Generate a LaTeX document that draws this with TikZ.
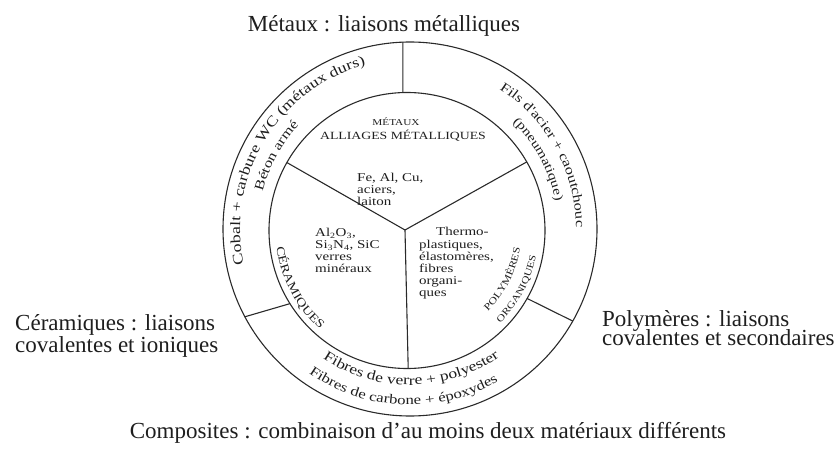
\documentclass[tikz,border=0pt]{standalone}
\usepackage{fontspec}
\setmainfont{Liberation Serif}
\newfontfamily\scanfont{Liberation Serif}[FakeStretch=1.25]
\usetikzlibrary{calc,decorations.text}
\definecolor{ink}{HTML}{1E1E1E}
\definecolor{linec}{HTML}{2A2A2A}
% #1 centre, #2 baseline radius, #3 mid angle, #4 half span (positive: clockwise), #5 size, #6 text
\newcommand{\ringtext}[6]{%
  \path[decorate,decoration={text along path,text align=center,
    text={|\scanfont\fontsize{#5}{#5}\selectfont\color{ink}|#6}}]
    ($(#1)+({#3+(#4)}:#2)$) arc[start angle={#3+(#4)},end angle={#3-(#4)},radius=#2];}
\begin{document}
\begin{tikzpicture}[x=1pt,y=1pt,
  ring/.style={draw=linec,line width=1.1pt},
  biglabel/.style={font=\fontsize{23}{22}\selectfont,text=ink,inner sep=0pt},
  small/.style={font=\scanfont\fontsize{12}{12.2}\selectfont,text=ink,inner sep=0pt,align=left},
]
\useasboundingbox (0,0) rectangle (839,448);
\coordinate (CO) at (410,219);
\coordinate (CI) at (407,217.5);
\coordinate (J) at (405,218);
% circles
\draw[ring] (CO) circle[radius=187];
\draw[ring] (CI) circle[radius=138];
% Y inside
\coordinate (y1) at ($(CI)+(150.5:138)$);
\coordinate (y2) at ($(CI)+(29.8:138)$);
\coordinate (y3) at ($(CI)+(270.5:138)$);
\draw[ring] (J) -- (y1);
\draw[ring] (J) -- (y2);
\draw[ring] (J) -- (y3);
% outer dividers
\coordinate (d1i) at ($(CI)+(91.7:138)$);
\coordinate (d1o) at ($(CO)+(92.2:187)$);
\coordinate (d2i) at ($(CI)+(212:138)$);
\coordinate (d2o) at ($(CO)+(208:187)$);
\coordinate (d3i) at ($(CI)+(330.5:138)$);
\coordinate (d3o) at ($(CO)+(330.5:187)$);
\draw[ring] (d1i) -- (d1o);
\draw[ring] (d2i) -- (d2o);
\draw[ring] (d3i) -- (d3o);
% outside labels
\node[biglabel,anchor=base] (tmet) at (384,416) {Métaux : liaisons métalliques};
\node[biglabel,anchor=base west] (tcer1) at (15,117.3) {Céramiques : liaisons};
\node[biglabel,anchor=base west] (tcer2) at (15,95.3) {covalentes et ioniques};
\node[biglabel,anchor=base west] (tpol1) at (602,122) {Polymères : liaisons};
\node[biglabel,anchor=base west] (tpol2) at (602,103) {covalentes et secondaires};
\node[biglabel,anchor=base] (tcomp) at (428,10) {Composites : combinaison d'au moins deux matériaux différents};
% inner sector texts
\node[small,font=\scanfont\fontsize{9}{10}\selectfont] (metaux) at (396,326) {MÉTAUX};
\node[small,font=\scanfont\fontsize{11}{12}\selectfont] (alliages) at (403,312) {ALLIAGES MÉTALLIQUES};
\node[small,anchor=west] (fe) at (357,258.5) {Fe, Al, Cu,\\aciers,\\laiton};
\node[small,anchor=west] (cerblock) at (315,197.5) {Al\textsubscript{2}O\textsubscript{3},\\Si\textsubscript{3}N\textsubscript{4}, SiC\\verres\\minéraux};
\node[small,anchor=west] (polblock) at (419,184.5) {\hspace*{17pt}Thermo-\\plastiques,\\élastomères,\\fibres\\organi-\\ques};
% curved texts, outer ring
\ringtext{CO}{170}{148.5}{55}{14.3}{Cobalt + carbure WC (métaux durs)}
\ringtext{CO}{152}{151.3}{25}{13.2}{Béton armé}
\ringtext{CO}{166}{29}{40}{13.2}{Fils d'acier + caoutchouc}
\ringtext{CO}{148}{28.5}{28}{12.5}{(pneumatique)}
\ringtext{CO}{156}{270.5}{-45}{14}{Fibres de verre + polyester}
\ringtext{CO}{176}{267.5}{-45}{13.4}{Fibres de carbone + époxydes}
% curved texts, inner circle
\ringtext{CI}{131.5}{208}{-30}{11.7}{CÉRAMIQUES}
\ringtext{CI}{114.5}{-27}{-30}{9.7}{POLYMÈRES}
\ringtext{CI}{131.5}{-28}{-25}{9.5}{ORGANIQUES}
\end{tikzpicture}
\end{document}
